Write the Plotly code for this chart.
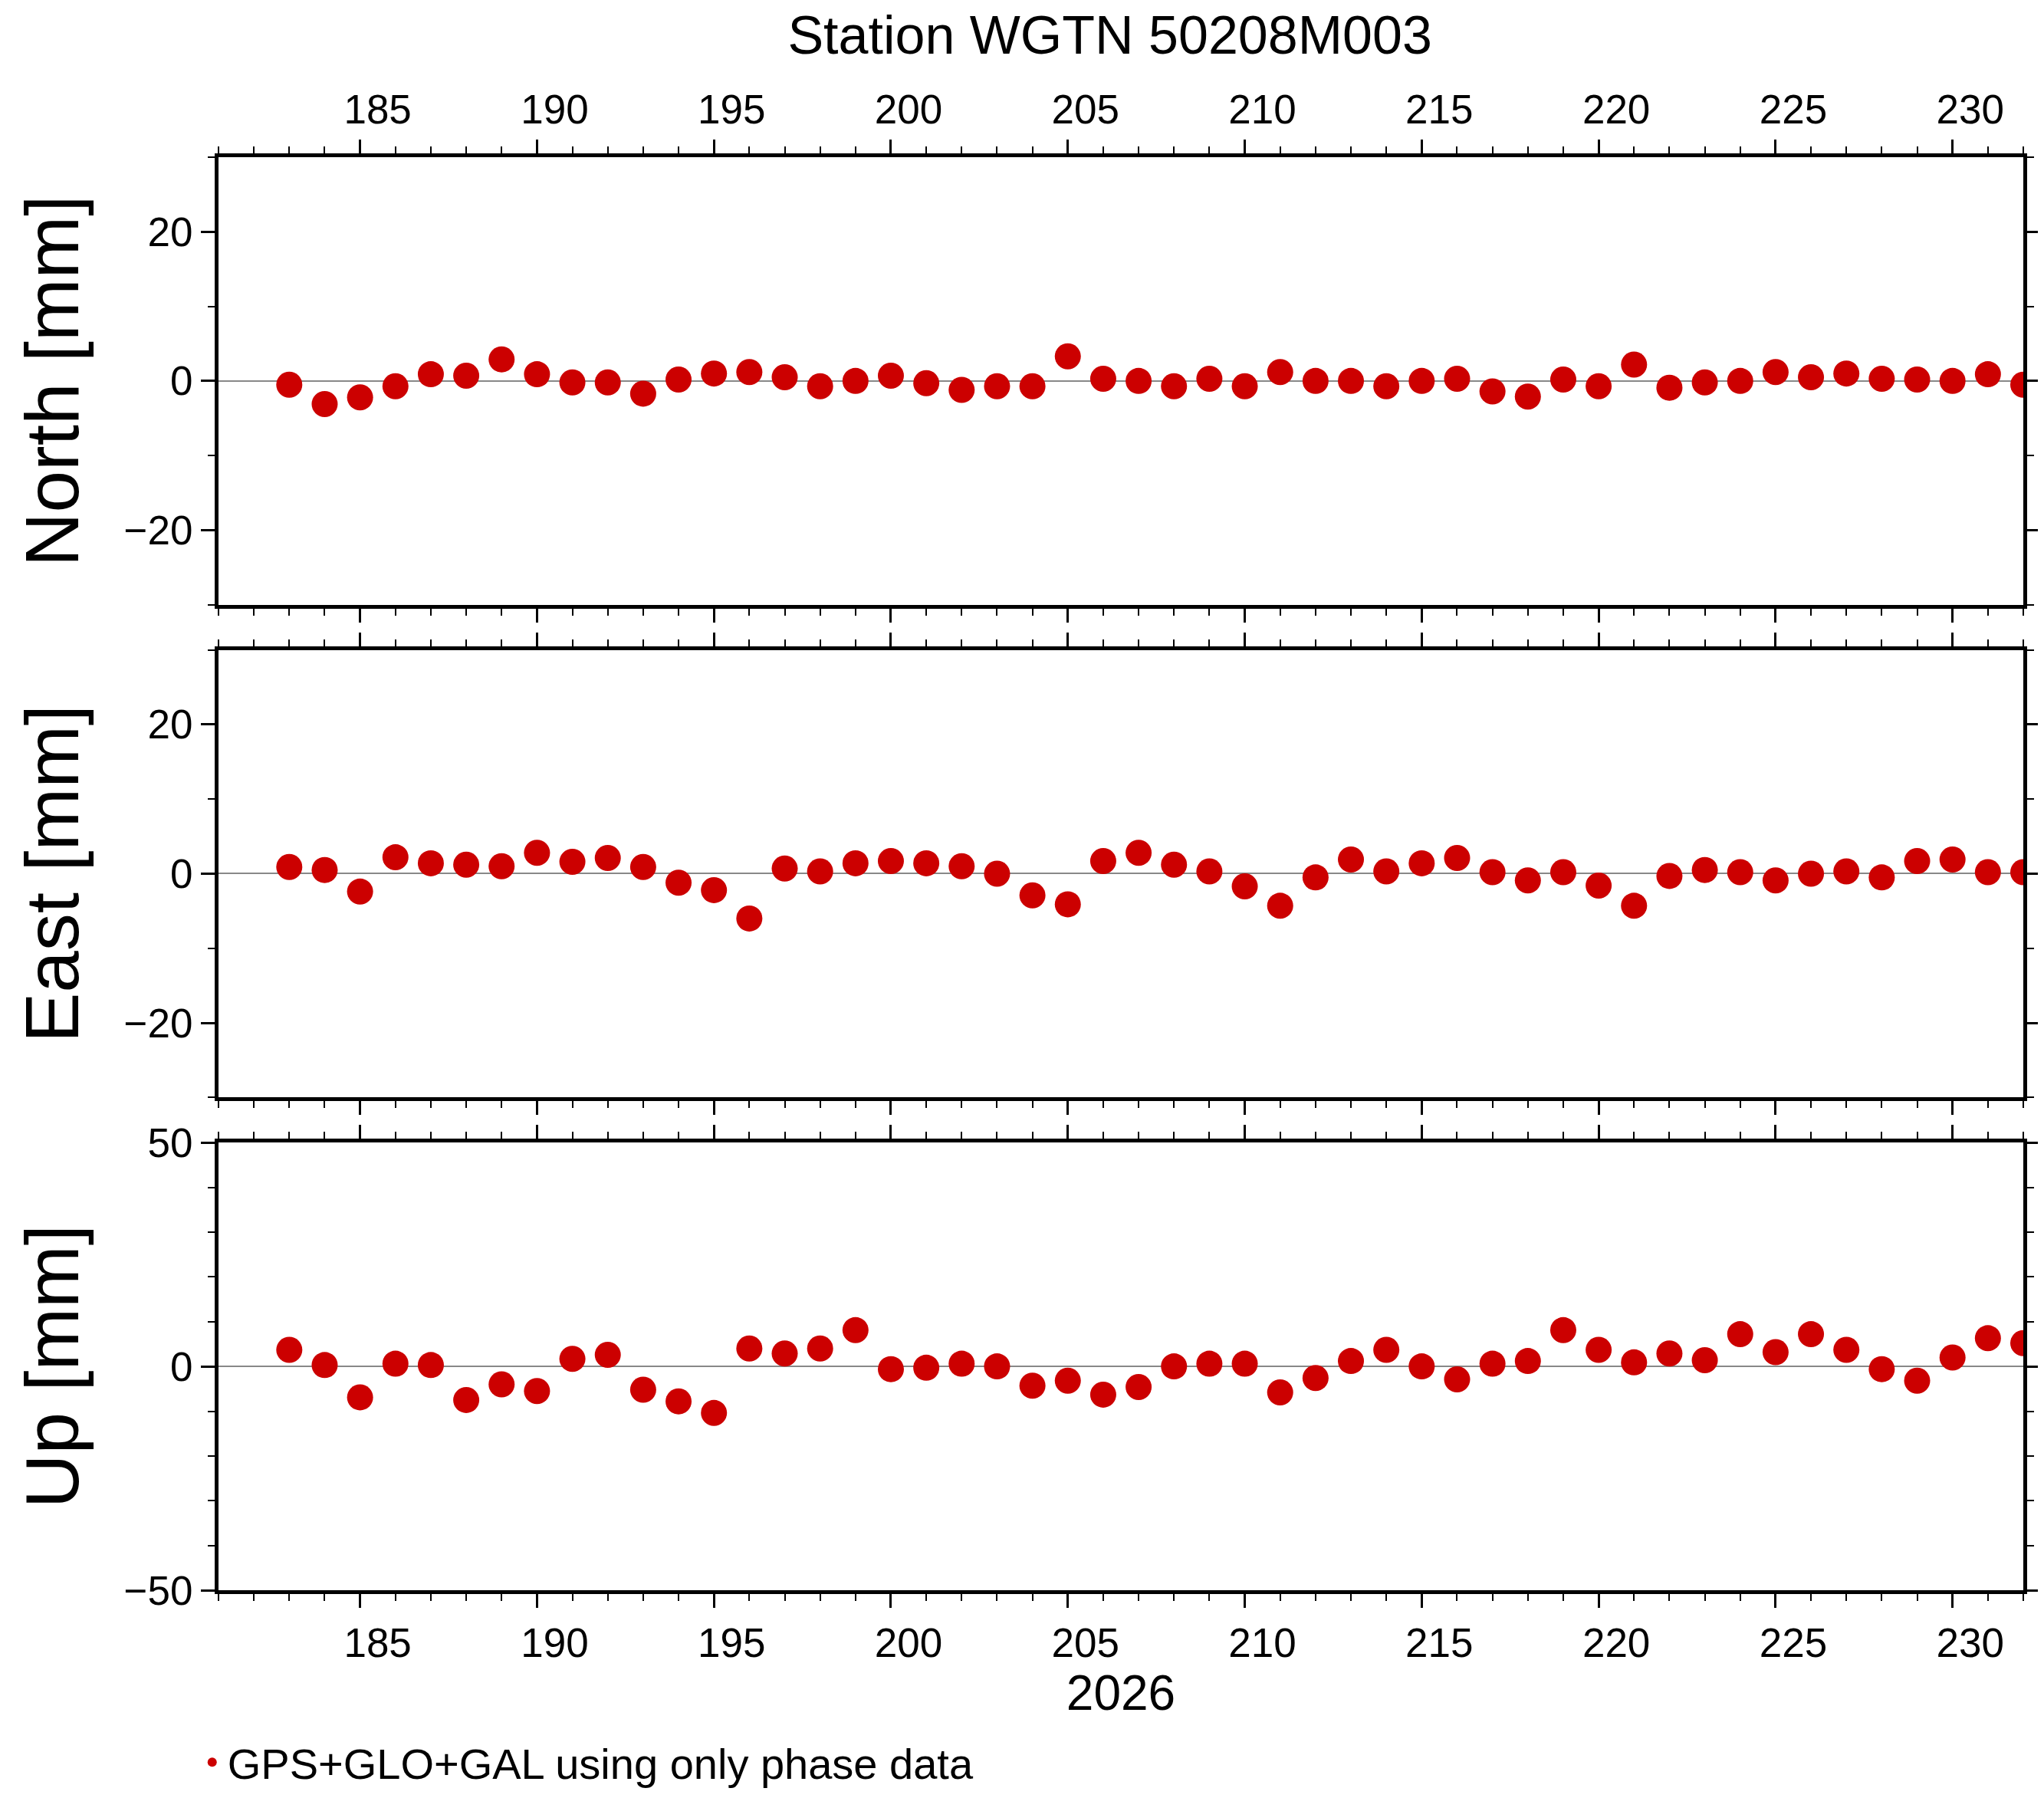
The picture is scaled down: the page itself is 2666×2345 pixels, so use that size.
import plotly.graph_objects as go
from plotly.subplots import make_subplots

days = list(range(183, 233))
north = [-0.5, -3.1, -2.2, -0.7, 0.9, 0.7, 2.9, 0.9, -0.2, -0.2,
         -1.7, 0.2, 1.0, 1.2, 0.5, -0.7, 0.0, 0.7, -0.3, -1.2,
         -0.7, -0.7, 3.3, 0.3, 0.0, -0.7, 0.3, -0.7, 1.2, 0.0,
         0.0, -0.7, 0.0, 0.3, -1.4, -2.1, 0.2, -0.7, 2.2, -0.9,
         -0.2, 0.0, 1.2, 0.5, 1.0, 0.3, 0.2, 0.0, 0.9, -0.5]
east = [0.9, 0.5, -2.4, 2.2, 1.4, 1.2, 1.0, 2.8, 1.6, 2.1,
        0.9, -1.2, -2.2, -6.0, 0.7, 0.3, 1.4, 1.7, 1.4, 1.0,
        0.0, -2.9, -4.1, 1.7, 2.8, 1.2, 0.3, -1.7, -4.3, -0.5,
        1.9, 0.3, 1.4, 2.1, 0.2, -0.9, 0.2, -1.6, -4.3, -0.3,
        0.5, 0.2, -0.9, 0.0, 0.3, -0.5, 1.7, 1.9, 0.2, 0.2]
up = [3.7, 0.3, -6.9, 0.6, 0.3, -7.5, -4.0, -5.5, 1.7, 2.6,
      -5.2, -7.8, -10.4, 4.0, 2.9, 4.0, 8.1, -0.6, -0.3, 0.6,
      0.0, -4.3, -3.2, -6.3, -4.6, 0.0, 0.6, 0.6, -5.8, -2.6,
      1.2, 3.7, 0.0, -2.9, 0.6, 1.2, 8.1, 3.7, 0.9, 2.9,
      1.4, 7.2, 3.2, 7.2, 3.7, -0.6, -3.2, 2.0, 6.3, 5.2]

panels = [("North [mm]", north, [-30, 30], 20),
          ("East [mm]", east, [-30, 30], 20),
          ("Up [mm]", up, [-50, 50], 50)]

FONT = "Liberation Sans, Arial, sans-serif"
RED = "#cc0000"

fig = make_subplots(rows=3, cols=1, vertical_spacing=35 / 1111)

for i, (label, vals, yr, dtick) in enumerate(panels, start=1):
    fig.add_trace(go.Scatter(x=days, y=vals, mode="markers",
                             marker=dict(color=RED, size=34),
                             name="GPS+GLO+GAL using only phase data",
                             showlegend=(i == 1)), row=i, col=1)
    fig.update_yaxes(range=yr, dtick=dtick, title_text=label,
                     title_font=dict(size=98), title_standoff=28,
                     showgrid=False, zeroline=True, zerolinecolor="#888888",
                     zerolinewidth=1.5, showline=True, linecolor="black",
                     linewidth=5, mirror="allticks", ticks="outside",
                     ticklen=18, tickwidth=2.5, tickcolor="black",
                     minor=dict(dtick=10, ticks="outside", ticklen=9,
                                tickwidth=2, tickcolor="black"),
                     row=i, col=1)
    fig.update_xaxes(range=[181, 232], dtick=5, tick0=180, showgrid=False,
                     zeroline=False, showline=True, linecolor="black",
                     linewidth=5, mirror="allticks", ticks="outside",
                     ticklen=18, tickwidth=2.5, tickcolor="black",
                     ticklabelshift=23,
                     minor=dict(dtick=1, ticks="outside", ticklen=9,
                                tickwidth=2, tickcolor="black"),
                     row=i, col=1)

fig.update_xaxes(side="top", row=1, col=1)
fig.update_xaxes(showticklabels=False, row=2, col=1)
fig.update_xaxes(title_text="2026", title_font=dict(size=64),
                 title_standoff=4, row=3, col=1)

fig.update_layout(
    width=2666, height=2345,
    margin=dict(l=277, r=25, t=197, b=260),
    plot_bgcolor="white", paper_bgcolor="white",
    font=dict(family=FONT, size=53, color="black"),
    title=dict(text="Station WGTN 50208M003", x=0.54, xanchor="center",
               y=0.984, yanchor="middle", font=dict(size=70)),
    legend=dict(x=-0.012, y=-0.12, xanchor="left", yanchor="middle",
                font=dict(size=56), bgcolor="rgba(0,0,0,0)",
                itemsizing="constant"),
)

fig.write_html("out.html")
